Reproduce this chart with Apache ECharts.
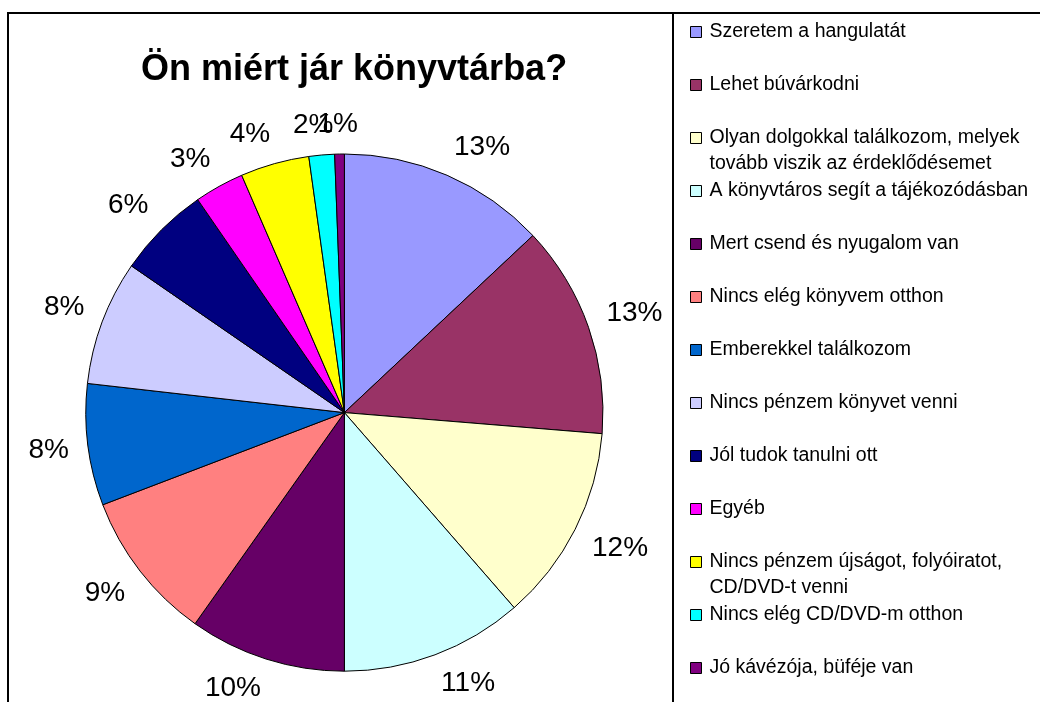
<!DOCTYPE html>
<html>
<head>
<meta charset="utf-8">
<script src="https://cdn.jsdelivr.net/npm/echarts@6/dist/echarts.min.js"></script>
<style>
  html, body { margin: 0; padding: 0; background: #fff; }
  #chart { width: 1040px; height: 702px; }
</style>
</head>
<body>
<div id="chart"></div>
<script>
// válaszok (kategóriák) és arányuk a kördiagramon
const categories = [
  'Szeretem a hangulatát',
  'Lehet búvárkodni',
  'Olyan dolgokkal találkozom, melyek tovább viszik az érdeklődésemet',
  'A könyvtáros segít a tájékozódásban',
  'Mert csend és nyugalom van',
  'Nincs elég könyvem otthon',
  'Emberekkel találkozom',
  'Nincs pénzem könyvet venni',
  'Jól tudok tanulni ott',
  'Egyéb',
  'Nincs pénzem újságot, folyóiratot, CD/DVD-t venni',
  'Nincs elég CD/DVD-m otthon',
  'Jó kávézója, büféje van'
]
const shares = [13.0, 13.3, 12.3, 11.4, 9.8, 9.4, 7.6, 7.8, 5.8, 3.1, 4.3, 1.6, 0.6]
const colors = [
  '#9999FF', '#993366', '#FFFFCC', '#CCFFFF', '#660066', '#FF8080', '#0066CC',
  '#CCCCFF', '#000080', '#FF00FF', '#FFFF00', '#00FFFF', '#800080'
]
const titleText = 'Ön miért jár könyvtárba?'

const font = 'Liberation Sans, Arial, sans-serif'
const pieCenter = [344.4, 412.6]
const chart = echarts.init(document.getElementById('chart'))

// hosszú legenda-szövegek tördelése, az egysoros elemek kapnak egy üres második sort,
// így minden elem azonos magasságú és a jelölő az első sorhoz igazodik
const legendText = name => {
  const t = name.replace(', melyek ', ', melyek\n').replace('folyóiratot, ', 'folyóiratot,\n')
  return t.indexOf('\n') >= 0 ? t : t + '\n'
}

// Excel-szerű címke elhelyezés: a címke közeli sarka a szelet középvonalára kerül
const clamp = v => Math.max(-1, Math.min(1, v))
const placeLabel = p => {
  const r = p.labelRect
  const right = r.x + r.width / 2 > pieCenter[0]
  const ax = right ? r.x : r.x + r.width
  const ay = r.y + r.height / 2
  const dx = ax - pieCenter[0]
  const dy = ay - pieCenter[1]
  const d = Math.sqrt(dx * dx + dy * dy)
  const s = dx / d
  const c = -dy / d
  return {
    x: ax + clamp(s / 0.25) * (r.width / 2 - 1),
    y: ay - clamp(c / 0.45) * 10,
    align: 'center',
    verticalAlign: 'middle',
    hideOverlap: false,
    moveOverlap: null
  }
}

const option = {
  backgroundColor: '#fff',
  animation: false,
  color: colors,
  title: {
    text: titleText,
    left: 141,
    top: 52,
    padding: 0,
    textStyle: { fontFamily: font, fontSize: 36, fontWeight: 'bold', color: '#000' }
  },
  legend: {
    orient: 'vertical',
    left: 690,
    top: 19,
    height: 900,
    padding: 0,
    itemGap: 1,
    itemWidth: 11,
    itemHeight: 37,
    icon: 'path://M0,0L11,0L11,11L0,11Z M0,37L0,37',
    selectedMode: false,
    itemStyle: { borderColor: '#000', borderWidth: 1 },
    formatter: legendText,
    textStyle: {
      fontFamily: font, fontSize: 19.5, color: '#000',
      lineHeight: 26, padding: [0, 0, 0, 3]
    }
  },
  graphic: [
    {
      type: 'rect',
      shape: { x: 8, y: 13, width: 1100, height: 800 },
      style: { fill: 'none', stroke: '#000', lineWidth: 2 },
      silent: true
    },
    {
      type: 'line',
      shape: { x1: 673, y1: 13, x2: 673, y2: 710 },
      style: { stroke: '#000', lineWidth: 2 },
      silent: true
    }
  ],
  series: [
    {
      type: 'pie',
      center: pieCenter,
      radius: 258.6,
      startAngle: 90,
      clockwise: true,
      avoidLabelOverlap: false,
      emphasis: { disabled: true },
      itemStyle: { borderColor: '#000', borderWidth: 1 },
      label: {
        show: true,
        position: 'outside',
        distanceToLabelLine: 0,
        fontFamily: font,
        fontSize: 28,
        color: '#000',
        formatter: p => Math.round(p.percent) + '%'
      },
      labelLine: { show: false, length: 20, length2: 0 },
      labelLayout: placeLabel,
      data: categories.map((name, i) => ({ name: name, value: shares[i] }))
    }
  ]
}

option && chart.setOption(option)
</script>
</body>
</html>
